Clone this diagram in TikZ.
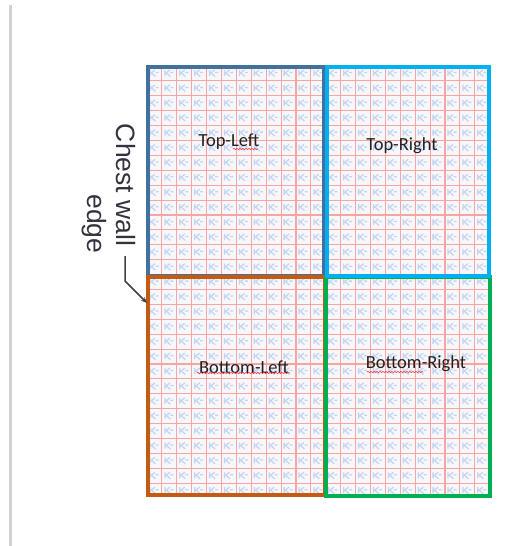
\documentclass[tikz,border=0pt]{standalone}
\usepackage{fontspec}
\setmainfont{Carlito}
\newfontfamily\arialf{Liberation Sans}
\usetikzlibrary{arrows.meta,decorations.pathmorphing}
\definecolor{steelb}{HTML}{41719C}
\definecolor{cyanb}{HTML}{00B0F0}
\definecolor{orangeb}{HTML}{C55A11}
\definecolor{greenb}{HTML}{00B050}
\definecolor{gridred}{HTML}{F6A5A5}
\definecolor{glyphblue}{HTML}{C3D5F3}
\definecolor{cellbg}{HTML}{F7F7FA}
\definecolor{txt}{HTML}{202020}
\definecolor{chest}{HTML}{333340}
\tikzset{
  quad/.style={draw, line width=4pt},
  lbl/.style={font=\fontsize{18.5}{20}\selectfont, text=txt, inner sep=0pt},
  chestlbl/.style={font=\arialf\fontsize{26.5}{28}\selectfont, text=chest, rotate=-90, inner sep=0pt},
  squig/.style={draw=red!80, line width=0.6pt, decorate, decoration={snake, amplitude=0.6pt, segment length=3pt}},
  gridline/.style={draw=gridred, line width=1.1pt},
  glyph/.style={draw=glyphblue, line width=1.3pt}
}
\begin{document}
\begin{tikzpicture}[x=1pt,y=-1pt]
\useasboundingbox (0,0) rectangle (531,546);
% left margin line
\draw[draw=black!18, line width=3pt] (10,5) -- (10,546);
% grid background
\fill[cellbg] (147,66) rectangle (490,496);
\begin{scope}
\clip (147,66) rectangle (490,496);
\foreach \i in {0,...,22}{
  \foreach \j in {0,...,28}{
    \pgfmathsetmacro{\cx}{147+14.9*\i}
    \pgfmathsetmacro{\cy}{66+14.9*\j}
    \draw[glyph] (\cx+3,\cy+4) -- (\cx+3,\cy+10)
      (\cx+3.5,\cy+7.5) -- (\cx+8,\cy+4)
      (\cx+4.5,\cy+7) -- (\cx+8.5,\cy+10.5)
      (\cx+8.5,\cy+6.5) -- (\cx+11.5,\cy+6.5);
  }
}
\foreach \i in {1,...,22}{
  \draw[gridline] ({147+14.9*\i},66) -- ({147+14.9*\i},496);
}
\foreach \j in {1,...,28}{
  \draw[gridline] (147,{66+14.9*\j}) -- (490,{66+14.9*\j});
}
\end{scope}
% quadrant boxes
\draw[quad, draw=steelb] (148,67) rectangle (323.5,276);
\draw[quad, draw=orangeb] (148,277) rectangle (325,495);
\draw[quad, draw=greenb] (325.5,277) rectangle (490,495.5);
\draw[quad, draw=cyanb] (327,67) rectangle (489,275.5);
% labels
\node[lbl] (tl) at (229,142) {Top-Left};
\node[lbl] (tr) at (402,146) {Top-Right};
\node[lbl] (bl) at (244,367) {Bottom-Left};
\node[lbl] (br) at (416,364) {Bottom-Right};
% spell-check squiggles
\draw[squig] (233,149) -- (258,149);
\draw[squig] (197,373) -- (290,373);
\draw[squig] (367,372) -- (423,372);
% chest wall label
\node[chestlbl] (cw) at (126,185) {Chest wall};
\node[chestlbl] (edge) at (94,224) {edge};
\coordinate (a0) at (125,256);
\coordinate (a1) at (125,281);
\coordinate (a2) at (147,303);
\draw[draw=black!75, line width=1.5pt, -{Stealth[length=6pt,width=5pt]}] (a0) -- (a1) -- (a2);
\end{tikzpicture}
\end{document}
